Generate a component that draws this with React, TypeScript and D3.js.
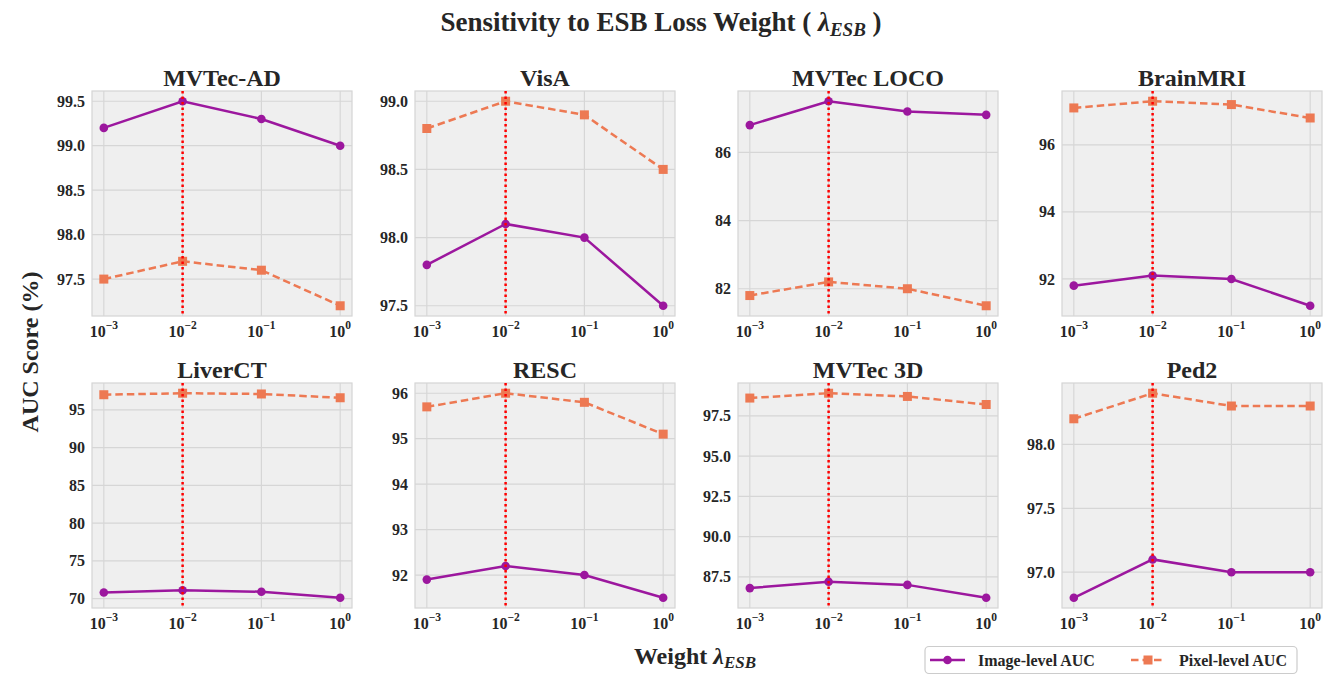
import React from 'react';
import * as d3 from 'd3';

const weights = [0.001, 0.01, 0.1, 1];
const weightExps = ['\u22123', '\u22122', '\u22121', '0'];
const bestWeight = 0.01;

const datasets = ['MVTec-AD', 'VisA', 'MVTec LOCO', 'BrainMRI', 'LiverCT', 'RESC', 'MVTec 3D', 'Ped2'];

const imageAuc = [
  [99.2, 99.5, 99.3, 99.0],
  [97.8, 98.1, 98.0, 97.5],
  [86.8, 87.5, 87.2, 87.1],
  [91.8, 92.1, 92.0, 91.2],
  [70.8, 71.1, 70.9, 70.1],
  [91.9, 92.2, 92.0, 91.5],
  [86.8, 87.2, 87.0, 86.2],
  [96.8, 97.1, 97.0, 97.0],
];

const pixelAuc = [
  [97.5, 97.7, 97.6, 97.2],
  [98.8, 99.0, 98.9, 98.5],
  [81.8, 82.2, 82.0, 81.5],
  [97.1, 97.3, 97.2, 96.8],
  [97.0, 97.2, 97.1, 96.6],
  [95.7, 96.0, 95.8, 95.1],
  [98.6, 98.9, 98.7, 98.2],
  [98.2, 98.4, 98.3, 98.3],
];

const yTickValues = [
  [97.5, 98.0, 98.5, 99.0, 99.5],
  [97.5, 98.0, 98.5, 99.0],
  [82, 84, 86],
  [92, 94, 96],
  [70, 75, 80, 85, 90, 95],
  [92, 93, 94, 95, 96],
  [87.5, 90.0, 92.5, 95.0, 97.5],
  [97.0, 97.5, 98.0],
];
const yTickDigits = [1, 1, 0, 0, 0, 0, 1, 1];

const seriesNames = ['Image-level AUC', 'Pixel-level AUC'];

const purple = '#9c179e';
const orange = '#ed7953';
const font = '"Liberation Serif", "Times New Roman", serif';

// layout
const colLeft = [92, 415, 738, 1062];
const rowTop = [91, 383];
const pw = 260;
const ph = 225;

function Panel({ idx }: { idx: number }) {
  const left = colLeft[idx % 4];
  const top = rowTop[Math.floor(idx / 4)];

  const x = d3.scaleLog().domain([Math.pow(10, -3.15), Math.pow(10, 0.15)]).range([0, pw]);
  const all = imageAuc[idx].concat(pixelAuc[idx]);
  const [lo, hi] = d3.extent(all) as [number, number];
  const pad = (hi - lo) * 0.05;
  const y = d3.scaleLinear().domain([lo - pad, hi + pad]).range([ph, 0]);

  const lineF = d3.line<number>()
    .x((_, i) => x(weights[i]))
    .y(d => y(d));

  const fmt = d3.format(`.${yTickDigits[idx]}f`);

  return (
    <g transform={`translate(${left},${top})`}>
      <rect x={0} y={0} width={pw} height={ph} fill="#efefef" stroke="#d4d4d4" strokeWidth={1.2} />
      {yTickValues[idx].map(t => (
        <g key={t}>
          <line x1={0} x2={pw} y1={y(t)} y2={y(t)} stroke="#d6d6d6" strokeWidth={1.2} />
          <text x={-7} y={y(t)} dy="0.35em" textAnchor="end" fontSize={16} fontWeight="bold" fill="#262626">{fmt(t)}</text>
        </g>
      ))}
      {weights.map((w, i) => (
        <g key={w}>
          <line x1={x(w)} x2={x(w)} y1={0} y2={ph} stroke="#d6d6d6" strokeWidth={1.2} />
          <text x={x(w)} y={ph + 21} textAnchor="middle" fontSize={16} fontWeight="bold" fill="#262626">
            10<tspan dy={-8} fontSize={11.5}>{weightExps[i]}</tspan>
          </text>
        </g>
      ))}
      <path d={lineF(pixelAuc[idx]) || ''} fill="none" stroke={orange} strokeWidth={2.5} strokeDasharray="7.5,4" />
      {pixelAuc[idx].map((v, i) => (
        <rect key={i} x={x(weights[i]) - 4.5} y={y(v) - 4.5} width={9} height={9} fill={orange} />
      ))}
      <path d={lineF(imageAuc[idx]) || ''} fill="none" stroke={purple} strokeWidth={2.5} />
      {imageAuc[idx].map((v, i) => (
        <circle key={i} cx={x(weights[i])} cy={y(v)} r={4.3} fill={purple} />
      ))}
      <line x1={x(bestWeight)} x2={x(bestWeight)} y1={0} y2={ph} stroke="#ff0000" strokeWidth={2.5} strokeDasharray="2.5,3" />
      <text x={pw / 2} y={-5} textAnchor="middle" fontSize={24} fontWeight="bold" fill="#262626">{datasets[idx]}</text>
    </g>
  );
}

export default function App() {
  return (
    <svg width={1323} height={675} style={{ position: 'absolute', left: 0, top: 0, fontFamily: font }}>
      <rect width={1323} height={675} fill="#ffffff" />
      <text x={661} y={31} textAnchor="middle" fontSize={27} fontWeight="bold" fill="#262626">
        Sensitivity to ESB Loss Weight ( <tspan fontStyle="italic">λ</tspan>
        <tspan fontStyle="italic" fontSize={19} dy={5}>ESB</tspan>
        <tspan dy={-5}> )</tspan>
      </text>
      {datasets.map((_, i) => <Panel key={i} idx={i} />)}
      <text transform="translate(38,352) rotate(-90)" textAnchor="middle" fontSize={24} fontWeight="bold" fill="#262626">AUC Score (%)</text>
      <text x={695} y={664} textAnchor="middle" fontSize={24} fontWeight="bold" fill="#262626">
        Weight <tspan fontStyle="italic">λ</tspan>
        <tspan fontStyle="italic" fontSize={17} dy={4}>ESB</tspan>
      </text>
      <g>
        <rect x={925} y={646.5} width={372} height={27} rx={4} fill="#ffffff" stroke="#cccccc" strokeWidth={1.2} />
        <line x1={930} x2={965} y1={660} y2={660} stroke={purple} strokeWidth={2.5} />
        <circle cx={947.5} cy={660} r={4.3} fill={purple} />
        <text x={978} y={660} dy="0.35em" fontSize={16} fontWeight="bold" fill="#262626">{seriesNames[0]}</text>
        <line x1={1131} x2={1165} y1={660} y2={660} stroke={orange} strokeWidth={2.5} strokeDasharray="7.5,4" />
        <rect x={1143.5} y={655.5} width={9} height={9} fill={orange} />
        <text x={1179} y={660} dy="0.35em" fontSize={16} fontWeight="bold" fill="#262626">{seriesNames[1]}</text>
      </g>
    </svg>
  );
}
